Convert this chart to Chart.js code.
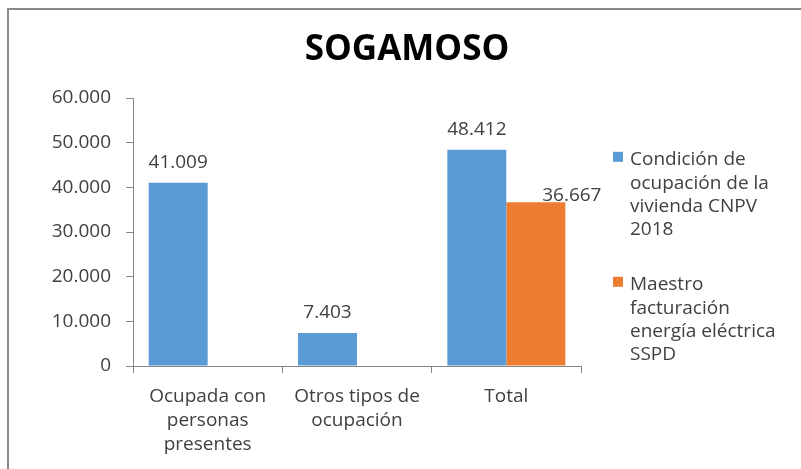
<!DOCTYPE html>
<html>
<head>
<meta charset="utf-8">
<script src="https://cdn.jsdelivr.net/npm/chart.js@4.4.0/dist/chart.umd.min.js"></script>
<style>
  body { margin: 0; background: #fff; overflow: hidden; }
  #frame { position: absolute; left: 7px; top: 8px; width: 900px; height: 600px;
           border-top: 2px solid #8a8a8a; border-left: 2px solid #8a8a8a; }
  #c { position: absolute; left: 0; top: 0; }
</style>
</head>
<body>
<div id="frame"></div>
<canvas id="c" width="801" height="469"></canvas>
<script>
const categories = [
    ['Ocupada con', 'personas', 'presentes'],
    ['Otros tipos de', 'ocupación'],
    ['Total']
];
const censoValues = [41009, 7403, 48412];
const sspdValues = [null, null, 36667];
const seriesLines = [
    ['Condición de', 'ocupación de la', 'vivienda CNPV', '2018'],
    ['Maestro', 'facturación', 'energía eléctrica', 'SSPD']
];
const seriesColors = ['#5B9BD5', '#ED7D31'];
const yTicks = [0, 10000, 20000, 30000, 40000, 50000, 60000];

const FONT = '"Open Sans", sans-serif';
const TEXT = '#404040';

function fmt(v) {
    return v.toString().replace(/\B(?=(\d{3})+(?!\d))/g, '.');
}

// title, value labels and the legend on the right
const extras = {
    id: 'extras',
    afterDraw(chart) {
        const ctx = chart.ctx;
        ctx.save();

        ctx.fillStyle = '#000';
        ctx.font = 'bold 35px ' + FONT;
        ctx.textAlign = 'center';
        ctx.textBaseline = 'alphabetic';
        ctx.fillText('SOGAMOSO', 407, 60);

        ctx.font = '19px ' + FONT;
        ctx.fillStyle = TEXT;
        chart.data.datasets.forEach((ds, di) => {
            const meta = chart.getDatasetMeta(di);
            meta.data.forEach((bar, i) => {
                const v = ds.data[i];
                if (v == null) return;
                // the orange label sits to the right of its bar top
                const dx = di === 1 ? 36 : 0;
                const dy = di === 1 ? -1 : -15;
                ctx.fillText(fmt(v), bar.x + dx, bar.y + dy);
            });
        });

        ctx.textAlign = 'left';
        const starts = [165.3, 290.3];
        seriesLines.forEach((lines, si) => {
            ctx.fillStyle = seriesColors[si];
            ctx.fillRect(613, starts[si] - 13.5, 10, 10);
            ctx.fillStyle = TEXT;
            lines.forEach((t, li) => ctx.fillText(t, 630, starts[si] + li * 23.3));
        });
        ctx.restore();
    }
};

new Chart(document.getElementById('c').getContext('2d'), {
    type: 'bar',
    data: {
        labels: categories,
        datasets: [
            { label: seriesLines[0].join(' '), data: censoValues, backgroundColor: seriesColors[0] },
            { label: seriesLines[1].join(' '), data: sspdValues, backgroundColor: seriesColors[1] }
        ]
    },
    options: {
        responsive: false,
        animation: false,
        layout: { padding: { left: 30, right: 220, top: 98, bottom: 13 } },
        datasets: { bar: { categoryPercentage: 0.79, barPercentage: 1 } },
        plugins: { legend: { display: false }, title: { display: false }, tooltip: { enabled: false } },
        scales: {
            x: {
                afterFit(s) { s.height = 90; },
                grid: { drawOnChartArea: false, tickLength: 7, color: '#868686', offset: true },
                border: { color: '#868686', width: 1 },
                ticks: { color: TEXT, font: { family: FONT, size: 19, lineHeight: 1.25 }, padding: 12, maxRotation: 0 }
            },
            y: {
                min: 0, max: 60000,
                afterFit(s) { s.width = 103; },
                afterBuildTicks(s) { s.ticks = yTicks.map(v => ({ value: v })); },
                grid: { drawOnChartArea: false, tickLength: 7, color: '#868686' },
                border: { color: '#868686', width: 1 },
                ticks: { color: TEXT, font: { family: FONT, size: 19 }, padding: 15,
                         callback: v => fmt(v) }
            }
        }
    },
    plugins: [extras]
});
</script>
</body>
</html>
